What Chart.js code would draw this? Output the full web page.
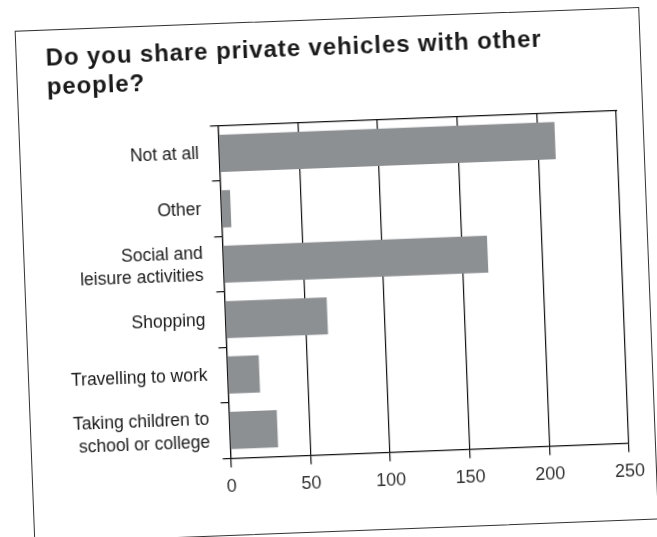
<!DOCTYPE html>
<html>
<head>
<meta charset="utf-8">
<script src="https://cdn.jsdelivr.net/npm/chart.js@4/dist/chart.umd.min.js"></script>
<style>
  html, body { margin: 0; padding: 0; background: #ffffff; overflow: hidden; }
  #wrap { position: relative; width: 657px; height: 537px; background: #ffffff; transform: rotate(-2.2deg); transform-origin: 328.5px 268.5px; }
  #frame { position: absolute; left: 24px; top: 19px; width: 625px; height: 513px; border: 1.3px solid #333; box-sizing: border-box; }
  canvas { position: absolute; left: 0; top: 0; }
</style>
</head>
<body>
<div id="wrap">
  <div id="frame"></div>
  <canvas id="c" width="657" height="537"></canvas>
</div>
<script>
const titleLines = ["Do you share private vehicles with other", "people?"];
const categories = [
  "Not at all",
  "Other",
  ["Social and", "leisure activities"],
  "Shopping",
  "Travelling to work",
  ["Taking children to", "school or college"]
];
const values = [211, 6, 166, 64, 20, 30];
const xTicks = [0, 50, 100, 150, 200, 250];

const spacedTitle = {
  id: 'spacedTitle',
  beforeDraw(chart) {
    const tb = chart.titleBlock;
    if (tb && !tb.__spaced) {
      const orig = tb.draw;
      tb.draw = function (...a) {
        const c = this.ctx;
        c.save();
        c.letterSpacing = '0.9px';
        orig.apply(this, a);
        c.restore();
      };
      tb.__spaced = true;
    }
  }
};

new Chart(document.getElementById('c'), {
  type: 'bar',
  data: {
    labels: categories,
    datasets: [{
      data: values,
      backgroundColor: 'rgb(140,144,147)',
      borderWidth: 0,
      barPercentage: 0.67,
      categoryPercentage: 1.0
    }]
  },
  plugins: [spacedTitle],
  options: {
    indexAxis: 'y',
    responsive: false,
    animation: false,
    layout: { padding: { left: 54, top: 34, right: 35, bottom: 34 } },
    plugins: {
      legend: { display: false },
      tooltip: { enabled: false },
      title: {
        display: true,
        text: titleLines,
        align: 'start',
        color: '#1a1a1a',
        font: { family: 'Liberation Sans', size: 24, weight: 'bold', lineHeight: 1.2 },
        padding: { top: 0, bottom: 30 }
      }
    },
    scales: {
      x: {
        type: 'linear',
        position: 'bottom',
        min: xTicks[0],
        max: xTicks[xTicks.length - 1],
        afterBuildTicks: (s) => { s.ticks = xTicks.map(v => ({ value: v })); },
        grid: { color: '#111', lineWidth: 1.2, tickLength: 9, drawOnChartArea: true },
        border: { display: true, color: '#111', width: 1.2 },
        ticks: { color: '#333', padding: 9, font: { family: 'Liberation Sans', size: 18 } }
      },
      x2: {
        type: 'linear',
        position: 'top',
        min: 0, max: 250,
        grid: { display: false, drawTicks: false },
        border: { display: true, color: '#111', width: 1.2 },
        ticks: { display: false }
      },
      y: {
        position: 'left',
        afterFit: (s) => { s.width = 169.5; },
        grid: { offset: true, drawOnChartArea: false, drawTicks: true, tickLength: 8, color: '#111', lineWidth: 1.2 },
        border: { display: true, color: '#111', width: 1.2 },
        ticks: { color: '#1a1a1a', padding: 12, font: { family: 'Liberation Sans', size: 17.5, lineHeight: 1.3 } }
      }
    }
  }
});
</script>
</body>
</html>
